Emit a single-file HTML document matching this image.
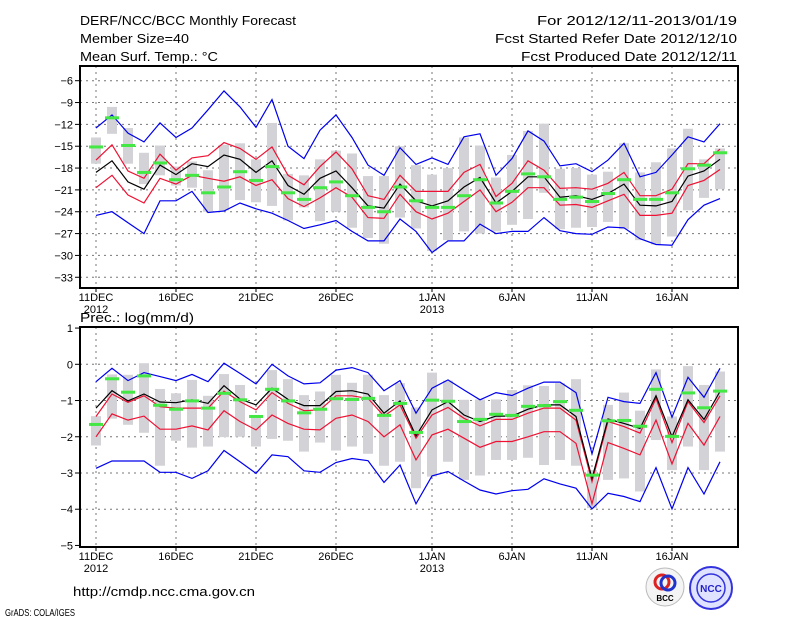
<!DOCTYPE html>
<html><head><meta charset="utf-8"><style>
html,body{margin:0;padding:0;background:#fff}
svg{display:block}
text{font-family:"Liberation Sans",sans-serif;fill:#000}
</style></head><body>
<svg id="c" width="800" height="618" viewBox="0 0 800 618" xmlns="http://www.w3.org/2000/svg">
<rect width="800" height="618" fill="#fff"/>
<g font-size="13">
<text x="80" y="25" textLength="216" lengthAdjust="spacingAndGlyphs">DERF/NCC/BCC Monthly Forecast</text>
<text x="80" y="43" textLength="109" lengthAdjust="spacingAndGlyphs">Member Size=40</text>
<text x="80" y="61" textLength="138" lengthAdjust="spacingAndGlyphs">Mean Surf. Temp.: °C</text>
<text x="537" y="25" textLength="200" lengthAdjust="spacingAndGlyphs">For 2012/12/11-2013/01/19</text>
<text x="495" y="43" textLength="242" lengthAdjust="spacingAndGlyphs">Fcst Started Refer Date 2012/12/10</text>
<text x="521" y="61" textLength="216" lengthAdjust="spacingAndGlyphs">Fcst Produced Date 2012/12/11</text>
</g>
<text x="80" y="322" font-size="13" textLength="114" lengthAdjust="spacingAndGlyphs">Prec.: log(mm/d)</text>
<g id="top"></g>
<g id="bot"></g>
<text x="73" y="596" font-size="13" textLength="182" lengthAdjust="spacingAndGlyphs">http://cmdp.ncc.cma.gov.cn</text>
<text x="5" y="616" font-size="10" textLength="70" lengthAdjust="spacingAndGlyphs">GrADS: COLA/IGES</text>
<g>
<circle cx="665" cy="587" r="19" fill="#f4f4f4" stroke="#bbb"/>
<circle cx="662" cy="582" r="7" fill="none" stroke="#d22" stroke-width="3"/>
<circle cx="668" cy="583" r="7" fill="none" stroke="#23c" stroke-width="3"/>
<text x="665" y="601" font-size="8" text-anchor="middle" font-weight="bold">BCC</text>
</g>
<g>
<circle cx="711" cy="588" r="21" fill="#dfe3ff" stroke="#33d" stroke-width="2"/>
<circle cx="711" cy="588" r="14" fill="none" stroke="#33d" stroke-width="1.5"/>
<text x="711" y="592" font-size="10" text-anchor="middle" fill="#22c" font-weight="bold" style="fill:#22c">NCC</text>
</g>
</svg>
<script>
// ---- Temperature panel data (°C), days 11DEC..19JAN ----
const tBlueHi=[-12.5,-10.7,-13.2,-14.4,-11.8,-13.8,-12.5,-10.0,-7.4,-9.6,-12.4,-8.6,-15.0,-16.7,-12.8,-10.7,-13.8,-17.6,-19.0,-15.2,-17.5,-16.6,-17.5,-13.7,-13.3,-19.0,-16.7,-12.9,-14.3,-17.7,-17.4,-18.5,-16.9,-14.6,-19.2,-18.6,-16.2,-13.7,-14.4,-11.9];
const tRedHi=[-16.9,-14.8,-18.4,-19.4,-16.1,-18.3,-16.6,-16.3,-14.5,-15.3,-16.8,-15.1,-19.0,-20.3,-17.8,-15.8,-18.1,-21.8,-22.3,-19.0,-21.2,-21.2,-21.2,-18.6,-17.5,-21.9,-20.1,-17.0,-18.3,-20.8,-20.7,-20.9,-20.1,-18.6,-21.8,-21.8,-20.9,-17.4,-17.4,-15.4];
const tMean=[-18.6,-17.0,-19.9,-20.9,-17.6,-18.9,-17.4,-17.8,-16.2,-16.8,-18.6,-17.0,-20.4,-21.6,-19.4,-18.4,-20.7,-23.2,-23.5,-20.2,-22.5,-23.2,-22.5,-20.6,-19.3,-22.8,-21.2,-19.2,-19.2,-22.0,-21.8,-22.3,-21.5,-20.2,-23.1,-23.2,-22.6,-19.1,-18.4,-16.8];
const tRedLo=[-20.7,-19.0,-21.7,-22.8,-19.4,-20.2,-19.0,-19.4,-19.8,-19.2,-20.4,-19.6,-22.2,-23.3,-22.1,-20.7,-22.0,-24.8,-24.9,-21.6,-24.0,-25.0,-24.2,-22.6,-21.0,-24.0,-22.7,-20.7,-20.7,-23.1,-23.0,-23.4,-22.5,-21.6,-24.5,-24.5,-24.2,-20.4,-19.7,-18.2];
const tBlueLo=[-24.5,-24.0,-25.5,-27.0,-22.5,-22.5,-21.2,-24.1,-23.9,-22.8,-23.6,-24.2,-25.2,-26.3,-25.8,-25.2,-26.7,-28.0,-28.0,-25.0,-26.7,-29.6,-28.0,-28.0,-25.7,-27.0,-26.7,-26.7,-24.8,-26.6,-27.0,-27.1,-26.1,-26.2,-27.7,-28.5,-28.6,-25.1,-23.1,-22.2];
const tObs=[-15.1,-11.1,-14.9,-18.6,-17.3,-19.6,-19.0,-21.4,-20.6,-18.5,-19.7,-17.8,-21.4,-22.3,-20.7,-19.9,-21.8,-23.4,-24.0,-20.6,-22.5,-23.4,-23.4,-21.8,-19.6,-22.8,-21.2,-18.8,-19.2,-22.3,-22.0,-22.6,-21.5,-19.6,-22.3,-22.3,-21.4,-18.1,-17.6,-15.9];
const tBarHi=[-13.8,-9.6,-12.5,-15.9,-14.9,-17.8,-17.1,-18.3,-14.8,-14.6,-16.8,-11.8,-18.8,-19.0,-16.8,-15.6,-16.0,-19.1,-19.1,-15.0,-17.6,-18.9,-18.0,-13.8,-14.9,-19.3,-16.2,-12.9,-11.9,-18.1,-18.0,-18.9,-18.5,-14.6,-18.6,-17.2,-15.3,-12.6,-16.8,-15.3];
const tBarLo=[-17.4,-13.3,-17.4,-20.2,-19.0,-20.4,-20.7,-24.0,-23.8,-22.4,-22.7,-23.2,-25.2,-23.4,-25.3,-24.0,-26.2,-27.6,-28.4,-24.8,-26.3,-29.4,-27.9,-26.7,-27.0,-26.7,-25.8,-25.0,-21.4,-26.4,-26.2,-26.1,-25.4,-26.4,-27.9,-28.5,-27.4,-23.8,-22.1,-20.9];
const tTicks=[-6,-9,-12,-15,-18,-21,-24,-27,-30,-33];
// ---- Precipitation panel data (log mm/d) ----
const pBlueHi=[-0.48,-0.11,-0.45,-0.23,-0.34,-0.45,-0.28,-0.48,0.03,-0.25,-0.54,0.0,-0.32,-0.54,-0.51,-0.16,-0.09,-0.23,-0.73,-0.45,-1.35,-0.66,-0.43,-0.71,-0.98,-0.78,-0.86,-0.66,-0.49,-0.49,-0.78,-2.47,-0.91,-1.03,-1.08,-0.23,-1.46,-0.36,-0.91,-0.11];
const pRedHi=[-1.44,-0.82,-1.05,-0.87,-1.17,-1.21,-1.21,-1.21,-0.74,-1.03,-1.26,-0.78,-1.08,-1.28,-1.26,-0.87,-0.87,-0.94,-1.43,-1.12,-2.04,-1.40,-1.19,-1.49,-1.70,-1.52,-1.52,-1.35,-1.21,-1.21,-1.54,-3.24,-1.58,-1.72,-1.90,-0.94,-2.16,-1.03,-1.61,-0.87];
const pMean=[-1.21,-0.73,-1.01,-0.82,-1.04,-1.06,-0.98,-1.08,-0.59,-0.96,-1.12,-0.66,-0.97,-1.14,-1.14,-0.75,-0.73,-0.82,-1.35,-1.01,-1.98,-1.26,-1.03,-1.40,-1.58,-1.43,-1.43,-1.24,-1.12,-1.12,-1.44,-3.15,-1.51,-1.63,-1.77,-0.87,-2.0,-0.98,-1.52,-0.75];
const pRedLo=[-2.0,-1.37,-1.54,-1.43,-1.79,-1.79,-1.70,-1.81,-1.28,-1.58,-1.81,-1.40,-1.63,-1.79,-1.81,-1.49,-1.40,-1.58,-2.0,-1.67,-2.64,-1.95,-1.79,-2.04,-2.29,-2.13,-2.13,-2.0,-1.86,-1.86,-2.18,-3.85,-2.16,-2.32,-2.50,-1.54,-2.75,-1.63,-2.23,-1.44];
const pBlueLo=[-2.87,-2.67,-2.67,-2.67,-2.98,-2.98,-3.15,-2.94,-2.38,-2.69,-3.01,-2.50,-2.55,-2.94,-2.98,-2.71,-2.60,-2.66,-3.26,-2.78,-3.85,-3.08,-2.96,-3.22,-3.47,-3.58,-3.49,-3.45,-3.16,-3.30,-3.42,-3.99,-3.56,-3.65,-3.79,-2.85,-3.99,-2.85,-3.58,-2.69];
const pObs=[-1.66,-0.40,-0.77,-0.32,-1.13,-1.24,-1.01,-1.21,-0.80,-0.98,-1.44,-0.69,-1.01,-1.34,-1.24,-0.95,-0.97,-0.94,-1.41,-1.08,-1.88,-0.99,-1.02,-1.58,-1.52,-1.38,-1.41,-1.16,-1.14,-1.03,-1.27,-3.06,-1.56,-1.55,-1.71,-0.69,-1.99,-0.79,-1.20,-0.74];
const pBarHi=[-1.43,-0.28,-0.29,0.03,-0.68,-0.80,-0.43,-0.87,-0.27,-0.57,-1.40,-0.16,-0.41,-0.85,-0.75,-0.29,-0.51,-0.29,-0.85,-0.52,-1.19,-0.23,-0.45,-0.98,-0.97,-0.97,-0.71,-0.58,-0.60,-0.52,-0.41,-2.92,-1.12,-0.78,-1.28,-0.14,-1.44,-0.05,-0.57,-0.20];
const pBarLo=[-2.24,-1.50,-1.67,-1.89,-2.80,-2.11,-2.30,-2.27,-2.01,-2.00,-2.27,-2.06,-2.11,-2.41,-2.16,-2.38,-2.27,-2.47,-2.80,-2.69,-3.42,-3.10,-2.69,-3.19,-3.07,-2.64,-2.64,-2.58,-2.78,-2.64,-2.80,-3.97,-3.19,-3.15,-3.51,-2.09,-2.92,-2.27,-2.92,-2.41];
const pTicks=[1,0,-1,-2,-3,-4,-5];
// ---- x axis ----
const xTickDays=[0,5,10,15,21,26,31,36];
const xTickLabels=["11DEC","16DEC","21DEC","26DEC","1JAN","6JAN","11JAN","16JAN"];
const xYearLabels={0:"2012",21:"2013"};

const NS="http://www.w3.org/2000/svg";
const X0=80,X1=738;
const xDay=d=>96+16*d;
function mk(tag,attrs,parent){const e=document.createElementNS(NS,tag);for(const k in attrs)e.setAttribute(k,attrs[k]);parent.appendChild(e);return e;}

function panel(g,cfg){
  const {yTop,yBot,y,ticks,series,obs,barHi,barLo,name}=cfg;
  // grid
  xTickDays.forEach(d=>{
    const l=mk('line',{x1:xDay(d),x2:xDay(d),y1:yTop,y2:yBot,stroke:'#777','stroke-dasharray':'2,4','stroke-width':1},g);
    
    
  });
  ticks.forEach(t=>{
    const yy=y(t);
    if(yy>yTop+2&&yy<yBot-2){
      const l=mk('line',{x1:X0,x2:X1,y1:yy,y2:yy,stroke:'#777','stroke-dasharray':'2,4','stroke-width':1},g);
      
      
    }
    const tk=mk('line',{x1:X0-5,x2:X0,y1:yy,y2:yy,stroke:'#000'},g);
    
    
    const tx=mk('text',{x:X0-7,y:yy+4,'font-size':11,'text-anchor':'end'},g);
    tx.textContent=String(t).replace('-','\u2212');
    
    
  });
  // bars
  barHi.forEach((v,i)=>{
    const a=y(v),b=y(barLo[i]);
    const r=mk('rect',{x:xDay(i)-5,y:a,width:10,height:b-a,fill:'#d3d3d7'},g);
    
    
  });
  // lines
  series.forEach(s=>{
    const p=mk('polyline',{points:s.data.map((v,i)=>xDay(i)+','+y(v).toFixed(1)).join(' '),fill:'none',stroke:s.color,'stroke-width':1.2},g);
    
    
  });
  // observed marks
  obs.forEach((v,i)=>{
    const r=mk('rect',{x:xDay(i)-7,y:y(v)-1.5,width:14,height:3,fill:'#44e844'},g);
    
    
  });
  // x ticks + labels
  xTickDays.forEach((d,k)=>{
    const t=mk('line',{x1:xDay(d),x2:xDay(d),y1:yBot,y2:yBot+4,stroke:'#000'},g);
    
    
    const tx=mk('text',{x:xDay(d),y:yBot+13,'font-size':11,'text-anchor':'middle'},g);
    tx.textContent=xTickLabels[k];
    
    
    if(xYearLabels[d]){
      const ty=mk('text',{x:xDay(d),y:yBot+25,'font-size':11,'text-anchor':'middle'},g);
      ty.textContent=xYearLabels[d];
      
      
    }
  });
  const f=mk('rect',{x:X0,y:yTop,width:X1-X0,height:yBot-yTop,fill:'none',stroke:'#000','stroke-width':2},g);
  
  
}

panel(document.getElementById('top'),{
  name:'temperature',yTop:66,yBot:288,
  y:v=>80.7+(-6-v)*7.28,ticks:tTicks,
  series:[{data:tBlueHi,color:'#0000ee',name:'max-line'},{data:tRedHi,color:'#ee1133',name:'upper-line'},{data:tMean,color:'#000',name:'mean-line'},{data:tRedLo,color:'#ee1133',name:'lower-line'},{data:tBlueLo,color:'#0000ee',name:'min-line'}],
  obs:tObs,barHi:tBarHi,barLo:tBarLo
});
panel(document.getElementById('bot'),{
  name:'precipitation',yTop:327,yBot:547,
  y:v=>364.3-v*36.23,ticks:pTicks,
  series:[{data:pBlueHi,color:'#0000ee',name:'max-line'},{data:pRedHi,color:'#ee1133',name:'upper-line'},{data:pMean,color:'#000',name:'mean-line'},{data:pRedLo,color:'#ee1133',name:'lower-line'},{data:pBlueLo,color:'#0000ee',name:'min-line'}],
  obs:pObs,barHi:pBarHi,barLo:pBarLo
});
</script>
</body></html>
